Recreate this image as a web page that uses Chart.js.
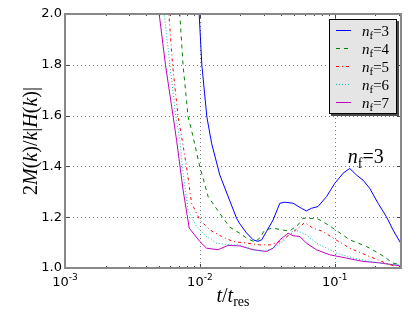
<!DOCTYPE html>
<html>
<head>
<meta charset="utf-8">
<script src="https://cdn.jsdelivr.net/npm/chart.js@4/dist/chart.umd.min.js"></script>
<style>
  html, body { margin: 0; padding: 0; background: #fff; }
</style>
</head>
<body>
<canvas id="chart" width="415" height="313"></canvas>
<script>
// values: t/t_res (log axis) vs 2M(k)/k|H(k)|
const nfLabels = ['3', '4', '5', '6', '7'];

const tNf3 = [0.00966, 0.01035, 0.01127, 0.01222, 0.01406, 0.01871, 0.01977, 0.02218, 0.02483, 0.02689, 0.02877, 0.03119, 0.03491, 0.03917, 0.04267, 0.04909, 0.05662, 0.06161, 0.06714, 0.07516, 0.08695, 0.1, 0.1153, 0.1292, 0.1449, 0.1622, 0.1815, 0.2094, 0.2416, 0.2704, 0.3083];
const mNf3 = [2.1, 1.797, 1.595, 1.491, 1.366, 1.196, 1.174, 1.138, 1.111, 1.105, 1.111, 1.144, 1.189, 1.255, 1.259, 1.255, 1.235, 1.225, 1.235, 1.242, 1.281, 1.333, 1.373, 1.392, 1.366, 1.346, 1.314, 1.255, 1.202, 1.150, 1.098];

const tNf4 = [0.0069, 0.00751, 0.00818, 0.00868, 0.01, 0.01152, 0.01488, 0.01667, 0.01977, 0.02218, 0.02551, 0.02781, 0.03031, 0.03491, 0.04027, 0.04642, 0.05345, 0.05821, 0.06534, 0.07305, 0.08144, 0.09703, 0.1292, 0.1718, 0.2154, 0.2692, 0.303];
const mNf4 = [2.1, 1.797, 1.595, 1.542, 1.398, 1.281, 1.196, 1.161, 1.137, 1.118, 1.102, 1.118, 1.150, 1.157, 1.150, 1.146, 1.170, 1.196, 1.195, 1.196, 1.183, 1.157, 1.111, 1.085, 1.056, 1.020, 1.013];

const tNf5 = [0.00571, 0.00628, 0.0069, 0.0074, 0.00797, 0.00868, 0.01, 0.01186, 0.01449, 0.01767, 0.02218, 0.02781, 0.033, 0.03917, 0.04642, 0.05345, 0.05995, 0.06902, 0.08176, 0.09703, 0.1292, 0.1815, 0.2553, 0.2864];
const mNf5 = [2.1, 1.797, 1.595, 1.503, 1.398, 1.255, 1.189, 1.150, 1.124, 1.104, 1.098, 1.091, 1.091, 1.104, 1.131, 1.157, 1.179, 1.157, 1.144, 1.118, 1.078, 1.045, 1.013, 1.006];

const tNf6 = [0.00519, 0.006, 0.00664, 0.00711, 0.00751, 0.00818, 0.00945, 0.01121, 0.01329, 0.01667, 0.01977, 0.02483, 0.02944, 0.03491, 0.04139, 0.04642, 0.05059, 0.06161, 0.07305, 0.08695, 0.1029, 0.1366, 0.1815, 0.2416, 0.303];
const mNf6 = [2.1, 1.797, 1.595, 1.503, 1.373, 1.229, 1.163, 1.124, 1.098, 1.091, 1.091, 1.072, 1.065, 1.078, 1.104, 1.137, 1.150, 1.131, 1.098, 1.078, 1.059, 1.039, 1.026, 1.016, 1.013];

const tNf7 = [0.00473, 0.00557, 0.00634, 0.00672, 0.00751, 0.00834, 0.01, 0.01121, 0.01366, 0.0162, 0.01977, 0.02483, 0.03119, 0.03491, 0.03917, 0.04508, 0.04909, 0.05508, 0.06161, 0.07305, 0.09183, 0.1222, 0.1622, 0.2154, 0.303];
const mNf7 = [2.1, 1.797, 1.595, 1.503, 1.307, 1.157, 1.104, 1.078, 1.072, 1.089, 1.087, 1.072, 1.065, 1.078, 1.111, 1.137, 1.127, 1.124, 1.098, 1.072, 1.052, 1.039, 1.026, 1.020, 1.009];

const yTicks = [1.0, 1.2, 1.4, 1.6, 1.8, 2.0];
const xTickExp = [-3, -2, -1];
const noteAt = { t: 0.17, m: 1.413, label: '3' };

const series = [
  { t: tNf3, m: mNf3, color: '#0000ff', dash: [] },
  { t: tNf4, m: mNf4, color: '#008000', dash: [4, 4] },
  { t: tNf5, m: mNf5, color: '#ff0000', dash: [3, 3, 1, 3] },
  { t: tNf6, m: mNf6, color: '#00bfbf', dash: [1, 2] },
  { t: tNf7, m: mNf7, color: '#bf00bf', dash: [] }
];

const SERIF = '"Liberation Serif", "DejaVu Serif", serif';
const SANS = '"DejaVu Sans", sans-serif';

// draw a run of text pieces with their own fonts / offsets
function drawRich(ctx, parts, x, y, align) {
  let w = 0;
  parts.forEach(p => { ctx.font = p.f; p.w = ctx.measureText(p.t).width; w += p.w; });
  let cx = align === 'center' ? x - w / 2 : (align === 'right' ? x - w : x);
  parts.forEach(p => {
    ctx.font = p.f;
    ctx.fillText(p.t, cx, y + (p.dy || 0));
    cx += p.w;
  });
}

function nfParts(n, size) {
  return [
    { t: 'n', f: `italic ${size}px ${SERIF}` },
    { t: 'f', f: `${Math.round(size * 0.7)}px ${SERIF}`, dy: size * 0.25 },
    { t: '=' + n, f: `${size}px ${SERIF}` }
  ];
}

const decor = {
  id: 'decor',
  beforeDatasetsDraw(chart) {
    const { ctx, chartArea: a, scales: { x, y } } = chart;
    ctx.save();
    ctx.strokeStyle = '#777';
    ctx.lineWidth = 1;
    ctx.setLineDash([1, 3]);
    yTicks.slice(1, -1).forEach(v => {
      const py = Math.round(y.getPixelForValue(v)) + 0.5;
      ctx.beginPath(); ctx.moveTo(a.left, py); ctx.lineTo(a.right, py); ctx.stroke();
    });
    xTickExp.slice(1).forEach(e => {
      const px = Math.round(x.getPixelForValue(Math.pow(10, e))) + 0.5;
      ctx.beginPath(); ctx.moveTo(px, a.top); ctx.lineTo(px, a.bottom); ctx.stroke();
    });
    ctx.restore();
  },
  afterDatasetsDraw(chart) {
    const { ctx, chartArea: a, scales: { x, y } } = chart;
    ctx.save();
    ctx.setLineDash([]);

    // ticks, inward on all four sides
    ctx.strokeStyle = '#444';
    ctx.lineWidth = 1;
    const tick = (x1, y1, x2, y2) => { ctx.beginPath(); ctx.moveTo(x1, y1); ctx.lineTo(x2, y2); ctx.stroke(); };
    yTicks.forEach(v => {
      const py = Math.round(y.getPixelForValue(v)) + 0.5;
      tick(a.left, py, a.left + 4, py);
      tick(a.right, py, a.right - 4, py);
    });
    for (let e = -3; e <= -1; e++) {
      for (let k = 1; k <= 9; k++) {
        const v = k * Math.pow(10, e);
        if (v > x.max) break;
        const px = Math.round(x.getPixelForValue(v)) + 0.5;
        const len = k === 1 ? 4 : 2;
        tick(px, a.bottom, px, a.bottom - len);
        tick(px, a.top, px, a.top + len);
      }
    }

    // frame
    ctx.strokeStyle = '#888';
    ctx.lineWidth = 2;
    ctx.strokeRect(a.left, a.top, a.right - a.left, a.bottom - a.top);

    // x tick labels 10^e
    ctx.fillStyle = '#000';
    ctx.textBaseline = 'alphabetic';
    xTickExp.forEach(e => {
      const px = x.getPixelForValue(Math.pow(10, e));
      drawRich(ctx, [
        { t: '10', f: `13px ${SANS}` },
        { t: String(e), f: `9px ${SANS}`, dy: -6 }
      ], px, a.bottom + 18, 'center');
    });

    // axis titles
    drawRich(ctx, [
      { t: 't', f: `italic 20px ${SERIF}` },
      { t: '/', f: `20px ${SERIF}` },
      { t: 't', f: `italic 20px ${SERIF}` },
      { t: 'res', f: `14px ${SERIF}`, dy: 4 }
    ], (a.left + a.right) / 2, 302, 'center');

    ctx.save();
    ctx.translate(37, (a.top + a.bottom) / 2);
    ctx.rotate(-Math.PI / 2);
    const it = `italic 20px ${SERIF}`, up = `20px ${SERIF}`;
    drawRich(ctx, [
      { t: '2', f: up }, { t: 'M', f: it }, { t: '(', f: up }, { t: 'k', f: it },
      { t: ')/', f: up }, { t: 'k', f: it }, { t: '|', f: up }, { t: 'H', f: it },
      { t: '(', f: up }, { t: 'k', f: it }, { t: ')|', f: up }
    ], 0, 0, 'center');
    ctx.restore();

    // annotation
    drawRich(ctx, nfParts(noteAt.label, 20), x.getPixelForValue(noteAt.t), y.getPixelForValue(noteAt.m), 'center');

    // legend box
    const lx = a.right - 72, ly = a.top + 5, lw = 68, lh = 95;
    ctx.fillStyle = '#4a4a4a';
    ctx.fillRect(lx + 2, ly + 2, lw, lh);
    ctx.fillStyle = '#e5e5e5';
    ctx.fillRect(lx, ly, lw, lh);
    ctx.strokeStyle = '#000';
    ctx.lineWidth = 1;
    ctx.strokeRect(lx + 0.5, ly + 0.5, lw - 1, lh - 1);
    chart.data.datasets.forEach((ds, i) => {
      const ry = Math.round(ly + 10.5 + i * 18) + 0.5;
      ctx.strokeStyle = ds.borderColor;
      ctx.setLineDash(ds.borderDash);
      ctx.lineWidth = 1;
      ctx.beginPath(); ctx.moveTo(lx + 7, ry); ctx.lineTo(lx + 22, ry); ctx.stroke();
      ctx.setLineDash([]);
      ctx.fillStyle = '#000';
      drawRich(ctx, nfParts(nfLabels[i], 15), lx + 33, ry + 5, 'left');
    });
    ctx.restore();
  }
};

new Chart(document.getElementById('chart'), {
  type: 'line',
  data: {
    datasets: series.map((s, i) => ({
      label: 'n_f=' + nfLabels[i],
      data: s.t.map((t, j) => ({ x: t, y: s.m[j] })),
      borderColor: s.color,
      borderDash: s.dash,
      borderWidth: 1,
      pointRadius: 0,
      tension: 0,
      fill: false
    }))
  },
  options: {
    responsive: false,
    animation: false,
    layout: { padding: { top: 14, right: 14, left: 0, bottom: 0 } },
    plugins: { legend: { display: false }, tooltip: { enabled: false } },
    scales: {
      x: {
        type: 'logarithmic',
        min: 0.001,
        max: 0.31,
        grid: { display: false, drawTicks: false },
        border: { display: false },
        ticks: { display: false },
        afterFit: s => { s.height = 45; }
      },
      y: {
        min: 1.0,
        max: 2.0,
        grid: { display: false, drawTicks: false },
        border: { display: false },
        afterBuildTicks: s => { s.ticks = yTicks.map(v => ({ value: v })); },
        ticks: {
          color: '#000',
          font: { family: 'DejaVu Sans', size: 13 },
          padding: 3,
          callback: v => v.toFixed(1)
        },
        afterFit: s => { s.width = 65; }
      }
    }
  },
  plugins: [decor]
});
</script>
</body>
</html>
